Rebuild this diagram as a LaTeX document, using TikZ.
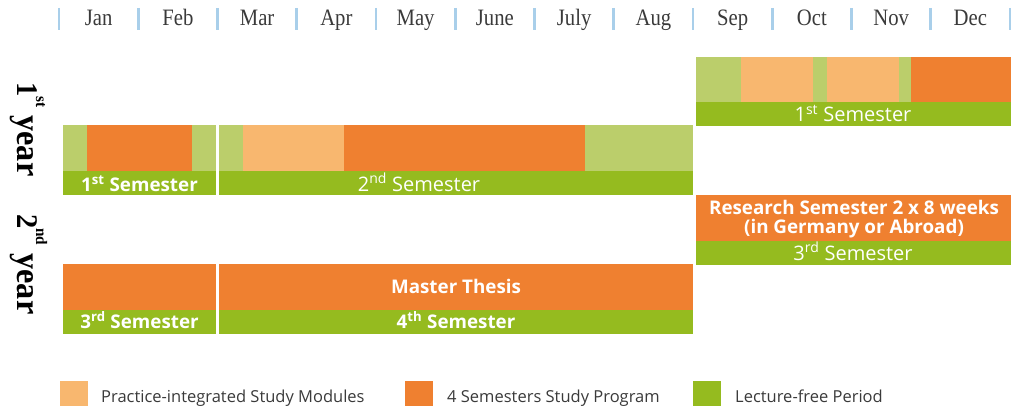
\documentclass[tikz,border=0pt]{standalone}
\usepackage{fontspec}
\newfontfamily\labfont{Open Sans}
\newfontfamily\monthfont[FakeStretch=0.88]{Liberation Serif}
\newfontfamily\yearfont[FakeStretch=0.95]{Liberation Serif}
\definecolor{lgreen}{HTML}{BBCE6B}
\definecolor{dgreen}{HTML}{95BB1F}
\definecolor{orng}{HTML}{EF8030}
\definecolor{lorng}{HTML}{F8B76F}
\definecolor{sepblue}{HTML}{A9CFEA}
\definecolor{txtgray}{HTML}{3A3A3A}
\newcommand{\yrlabel}[2]{{\fontsize{30}{30}\selectfont #1}\raisebox{19pt}{\fontsize{16}{16}\selectfont #2} year}
\begin{document}
\begin{tikzpicture}[x=1pt,y=-1pt,
  month/.style={text=txtgray,font=\monthfont\fontsize{23.5}{26}\selectfont,inner sep=0pt,anchor=base},
  yearlab/.style={text=black,font=\yearfont\bfseries\fontsize{34}{36}\selectfont,rotate=-90,inner sep=0pt,anchor=base west},
  semb/.style={text=white,font=\labfont\bfseries\fontsize{18.8}{20}\selectfont,inner sep=0pt,anchor=base},
  semr/.style={text=white,font=\labfont\fontsize{20}{22}\selectfont,inner sep=0pt,anchor=base},
  legtxt/.style={text=txtgray,font=\labfont\fontsize{16.5}{18}\selectfont,inner sep=0pt,anchor=base west}]
\useasboundingbox (0,0) rectangle (1011,406);
% month separators
\foreach \i in {0,...,12}{
  \draw[sepblue,line width=2.6pt] ({59+79.25*\i},8) -- ({59+79.25*\i},30);
}
\foreach \m [count=\i from 0] in {Jan,Feb,Mar,Apr,May,June,July,Aug,Sep,Oct,Nov,Dec}{
  \node[month] (m\i) at ({59+79.25*(\i+0.5)},26) {\m};
}
% year labels
\node[yearlab] (y1) at (17,82) {\yrlabel{1}{st}};
\node[yearlab] (y2) at (17,214) {\yrlabel{2}{nd}};
% ---- year 1, right block (Sep-Dec)
\fill[lgreen] (696,57) rectangle (741,102);
\fill[lorng] (741,57) rectangle (813,102);
\fill[lgreen] (813,57) rectangle (827,102);
\fill[lorng] (827,57) rectangle (899,102);
\fill[lgreen] (899,57) rectangle (911,102);
\fill[orng] (911,57) rectangle (1011,102);
\fill[dgreen] (696,102) rectangle (1011,126);
\node[semr] (s1r) at (853,122) {1\textsuperscript{st} Semester};
% ---- year 1, left blocks
\fill[lgreen] (63,125) rectangle (87,171);
\fill[orng] (87,125) rectangle (192,171);
\fill[lgreen] (192,125) rectangle (216,171);
\fill[dgreen] (63,171) rectangle (216,195);
\node[semb] (s1l) at (139.5,191) {1\textsuperscript{st} Semester};
\fill[lgreen] (219,125) rectangle (243,171);
\fill[lorng] (243,125) rectangle (344,171);
\fill[orng] (344,125) rectangle (585,171);
\fill[lgreen] (585,125) rectangle (693,171);
\fill[dgreen] (219,171) rectangle (693,195);
\node[semr] (s2) at (419,191) {2\textsuperscript{nd} Semester};
% ---- year 2, right block
\fill[orng] (696,195) rectangle (1011,241);
\fill[dgreen] (696,241) rectangle (1011,265);
\node[semb] (rs1) at (854,214) {Research Semester 2 x 8 weeks};
\node[semb] (rs2) at (854,233) {(in Germany or Abroad)};
\node[semr] (s3r) at (853,260) {3\textsuperscript{rd} Semester};
% ---- year 2, left blocks
\fill[orng] (63,264) rectangle (216,310);
\fill[dgreen] (63,310) rectangle (216,334);
\node[semb] (s3l) at (139.5,328) {3\textsuperscript{rd} Semester};
\fill[orng] (219,264) rectangle (693,310);
\fill[dgreen] (219,310) rectangle (693,334);
\node[semb] (mt) at (456,293) {Master Thesis};
\node[semb] (s4) at (456,328) {4\textsuperscript{th} Semester};
% ---- legend
\fill[lorng] (60,381) rectangle (88,409);
\node[legtxt] (l1) at (101,402) {Practice-integrated Study Modules};
\fill[orng] (405,381) rectangle (433,409);
\node[legtxt] (l2) at (447,402) {4 Semesters Study Program};
\fill[dgreen] (693,381) rectangle (721,409);
\node[legtxt] (l3) at (735,402) {Lecture-free Period};
\end{tikzpicture}
\end{document}
